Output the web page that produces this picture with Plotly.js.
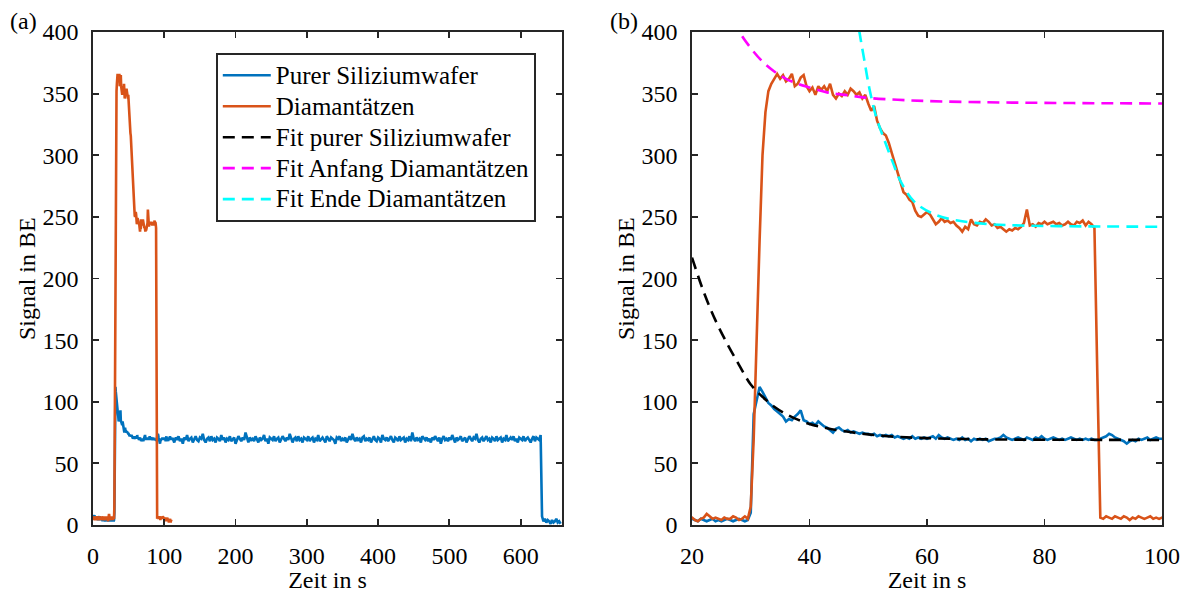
<!DOCTYPE html>
<html>
<head>
<meta charset="utf-8">
<script src="https://cdn.plot.ly/plotly-3.0.1.min.js"></script>
<style>html,body{margin:0;padding:0;background:#fff;}#chart{width:1184px;height:593px;}</style>
</head>
<body>
<div id="chart"></div>
<script>
// ---- sampling grids (time in s) ----
var tFine = [];             // 0 ... 110 s, every 0.5 s
for (var i = 0; i <= 220; i++) tFine.push(i * 0.5);
var tTail = [];             // 112 ... 656 s, every 2 s (pure silicon only)
for (var t = 112; t <= 656; t += 2) tTail.push(t);

// ---- Purer Siliziumwafer, 0 ... 110 s ----
var siFine = [
  8,7,6,7,8,6,5,7,6,5,6,7,5,6,4,5,6,5,7,6,5,4,6,5,4,6,5,3,5,4,5,6,4,5,3,4,5,4,6,5,
  5,4,3,5,4,3,4,5,3,4,3,4,5,4,3,4,5,4,3,4,
  10,90,100,112,108,104,99,97,94,92,90,88,84,86,85,88,90,93,85,84,
  82,83,81,84,82,80,79,77,75,78,79,77,76,77,75,76,75,74,75,74,
  74,73,74,72,73,72,73,72,73,71,72,71,70,71,70,72,70,71,70,71,
  70,71,72,70,73,71,70,71,70,69,70,69,71,69,70,68,70,69,70,69,
  70,68,69,70,70,71,73,71,70,69,70,71,70,69,71,70,69,71,70,72,
  70,69,70,71,70,69,70,69,70,71,70,69,70,69,70,69,70,69,69,70,
  71,72,74,73,71,70,69,68,66,68,69,68,70,69,70,71,69,70,71,70,70,
  69,71,70,68,70,72,69,70,71,69,68,70,71,69,70,72,70,69,71,70
];
// ---- Purer Siliziumwafer, 112 ... 656 s ----
var siTail = [
  70,67,71,69,72,68,70,66,71,69, 73,68,70,71,67,70,72,69,68,71,
  70,74,69,67,70,71,68,72,69,70, 67,71,70,68,73,69,71,67,70,69,
  72,68,70,71,66,69,72,70,68,71, 69,75,70,67,71,69,70,68,72,70,
  67,71,69,70,73,68,70,66,71,70, 69,72,68,70,71,67,69,72,70,68,
  71,69,74,70,67,70,71,68,72,69, 70,67,71,70,69,72,68,70,71,67,
  70,69,73,68,70,71,69,67,72,70, 68,71,70,69,66,71,70,72,68,70,
  69,71,67,70,72,69,74,70,68,71, 69,70,67,71,72,68,70,69,71,67,
  70,72,69,68,71,70,67,73,70,69, 71,68,70,72,69,67,71,70,68,72,
  69,70,71,67,70,69,72,68,75,70, 68,71,69,70,67,72,70,69,71,68,
  70,67,71,69,72,70,68,71,66,70, 72,69,70,68,71,69,73,70,67,71,
  69,70,72,68,70,71,67,69,72,70, 68,71,70,74,69,67,70,71,68,70,
  72,69,70,67,71,70,68,72,69,70, 71,67,70,69,73,68,70,71,69,72,
  68,70,67,71,70,69,72,68,70,71, 69,67,70,72,68,71,70,69,73,
  7,3,5,2,4,3,1,4,2,3,5,2,3,1
];
// ---- Diamantätzen, 0 ... 110 s ----
var diaFine = [
  5,6,4,5,7,5,4,6,5,7,6,5,4,6,7,5,6,4,5,6,7,5,6,4,5,7,6,5,4,6,5,7,6,4,5,6,5,7,5,6,
  6,4,3,5,6,9,7,5,6,5,4,6,5,5,7,6,4,5,7,5,
  15,70,160,230,300,335,352,358,362,366,362,365,360,362,366,356,358,363,365,356,
  352,355,349,356,353,356,352,358,349,346,350,348,352,349,354,352,349,351,346,349,
  342,336,340,328,322,318,316,310,302,294,285,278,270,268,264,262,255,251,250,252,
  254,252,248,244,246,249,246,247,245,246,243,241,238,242,240,248,244,243,246,245,
  248,246,243,244,241,242,240,238,240,239,241,240,242,245,256,243,244,242,245,244,
  246,244,245,246,244,245,243,244,246,244,243,246,245,247,243,246,244,241,120,6,
  5,7,6,5,7,6,5,7,6,4,6,5,7,6,5,6,7,5,6,5,6,
  5,4,6,5,3,5,4,6,4,3,5,4,2,4,3,5,3,2,4,3
];

// ---- Fits ----
var fitSiT = [20,22,24,26,28,30,32,34,36,38,40,43,46,50,55,60,70,80,90,100];
var fitSiV = [217,189,166,147,130,114,104,96,90,85.5,82,78.5,76,73.5,71.5,70.5,69.5,69.2,69.1,69];
var fitStartT = [26,28,30,32,34,36,38,40,43,46,50,55,60,70,80,90,100];
var fitStartV = [425,401,387,376,368,362,358,355,351,349,346.5,345,344,343,342.5,342.2,342];
var fitEndT = [47.5,48.5,49.3,50.2,51.3,52.7,54.2,55.6,57.9,61.3,65.2,70.9,76,82.3,90,100];
var fitEndV = [432,400,378,354,332,313,294,278,262,252,247,244,243,242.5,242.2,242];

var names = ['Purer Siliziumwafer','Diamantätzen','Fit purer Siliziumwafer','Fit Anfang Diamantätzen','Fit Ende Diamantätzen'];
var xTicks1 = [0,100,200,300,400,500,600];
var xTicks2 = [20,40,60,80,100];
var yTicks = [0,50,100,150,200,250,300,350,400];

function lg(s) { return '<span style="font-size:25px">' + s + '</span>'; }

var cBlue = 'rgb(0,114,189)', cOrange = 'rgb(217,83,25)';
var siT = tFine.concat(tTail), siV = siFine.concat(siTail);
var dashP = '12px,7px';

var data = [
  {x: siT, y: siV, xaxis:'x', yaxis:'y', mode:'lines', name:lg(names[0]), line:{color:cBlue, width:2.6}},
  {x: tFine, y: diaFine, xaxis:'x', yaxis:'y', mode:'lines', name:lg(names[1]), line:{color:cOrange, width:2.6}},
  {x: siT, y: siV, xaxis:'x2', yaxis:'y2', mode:'lines', name:names[0], showlegend:false, line:{color:cBlue, width:2.6}},
  {x: tFine, y: diaFine, xaxis:'x2', yaxis:'y2', mode:'lines', name:names[1], showlegend:false, line:{color:cOrange, width:2.6}},
  {x: fitSiT, y: fitSiV, xaxis:'x2', yaxis:'y2', mode:'lines', name:lg(names[2]), line:{color:'#000000', width:2.6, dash:dashP, shape:'spline'}},
  {x: fitStartT, y: fitStartV, xaxis:'x2', yaxis:'y2', mode:'lines', name:lg(names[3]), line:{color:'#FF00FF', width:2.6, dash:dashP, shape:'spline'}},
  {x: fitEndT, y: fitEndV, xaxis:'x2', yaxis:'y2', mode:'lines', name:lg(names[4]), line:{color:'#00FFFF', width:2.6, dash:dashP, shape:'spline'}}
];

function mk(sz) { return {family:'Liberation Serif', size:sz || 24, color:'#000000'}; }
function ax(extra) {
  var a = {
    showline:true, mirror:'ticks', linecolor:'#262626', linewidth:1.8,
    ticks:'inside', ticklen:6, tickwidth:1.8, tickcolor:'#262626',
    showgrid:false, zeroline:false, tickfont:mk(), ticklabelstandoff:8
  };
  for (var k in extra) a[k] = extra[k];
  return a;
}
var yDom = [1-525/593, 1-32/593];
var yMid = 1 - 279/593;
var layout = {
  width:1184, height:593,
  margin:{l:0, r:0, t:0, b:0},
  paper_bgcolor:'#fff', plot_bgcolor:'#fff',
  font:mk(),
  showlegend:true,
  xaxis: ax({domain:[93/1184, 562/1184], range:[0,658], tickvals:xTicks1,
             title:{text:'Zeit in s', font:mk(), standoff:8}}),
  yaxis: ax({domain:yDom, range:[0,400], tickvals:yTicks}),
  xaxis2: ax({domain:[692/1184, 1162/1184], range:[20,100], tickvals:xTicks2, anchor:'y2',
             title:{text:'Zeit in s', font:mk(), standoff:8}}),
  yaxis2: ax({domain:yDom, range:[0,400], tickvals:yTicks, anchor:'x2'}),
  legend:{x:216/1184, y:1-53/593, xanchor:'left', yanchor:'top', bgcolor:'#fff',
          bordercolor:'#262626', borderwidth:1.8, font:mk(21.5), itemwidth:48},
  annotations:[
    {text:'(a)', xref:'paper', yref:'paper', x:8/1184, y:1-21/593, xanchor:'left', yanchor:'middle', showarrow:false, font:mk()},
    {text:'(b)', xref:'paper', yref:'paper', x:608/1184, y:1-21/593, xanchor:'left', yanchor:'middle', showarrow:false, font:mk()},
    {text:'Signal in BE', xref:'paper', yref:'paper', x:27/1184, y:yMid, xanchor:'center', yanchor:'middle', textangle:-90, showarrow:false, font:mk()},
    {text:'Signal in BE', xref:'paper', yref:'paper', x:626/1184, y:yMid, xanchor:'center', yanchor:'middle', textangle:-90, showarrow:false, font:mk()}
  ]
};
Plotly.newPlot('chart', data, layout, {displayModeBar:false, staticPlot:true});
</script>
</body>
</html>
